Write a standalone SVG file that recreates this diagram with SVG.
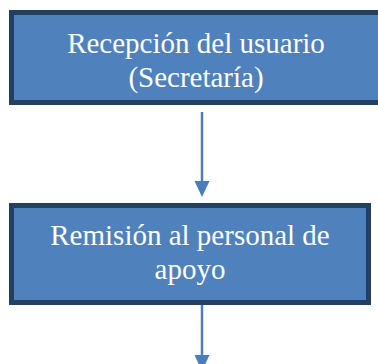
<svg xmlns="http://www.w3.org/2000/svg" width="378" height="364" viewBox="0 0 378 364">
<style>
.box{fill:#4F81BD;stroke:#243F60;stroke-width:5}
.lbl{font-size:29px;fill:#ffffff;text-anchor:middle}
.conn{stroke:#4A7EBB;stroke-width:2.5;fill:none}
.head{fill:#4A7EBB}
</style>
<rect width="378" height="364" fill="#ffffff"/>
<g id="connectors">
<line class="conn" x1="202" y1="112" x2="202" y2="182"/>
<path class="head" d="M194.5,181 L209.5,181 L202,197 Z"/>
<line class="conn" x1="202" y1="303" x2="202" y2="356"/>
<path class="head" d="M194.5,355 L209.5,355 L202,371 Z"/>
</g>
<g id="node1">
<rect class="box" x="11.5" y="12.5" width="372" height="90"/>
<text class="lbl" font-family="Liberation Serif" x="196" y="53">Recepción del usuario</text>
<text class="lbl" font-family="Liberation Serif" x="196" y="87">(Secretaría)</text>
</g>
<g id="node2">
<rect class="box" x="11.5" y="205.5" width="357" height="97"/>
<text class="lbl" font-family="Liberation Serif" x="190" y="245">Remisión al personal de</text>
<text class="lbl" font-family="Liberation Serif" x="190" y="279">apoyo</text>
</g>
</svg>
